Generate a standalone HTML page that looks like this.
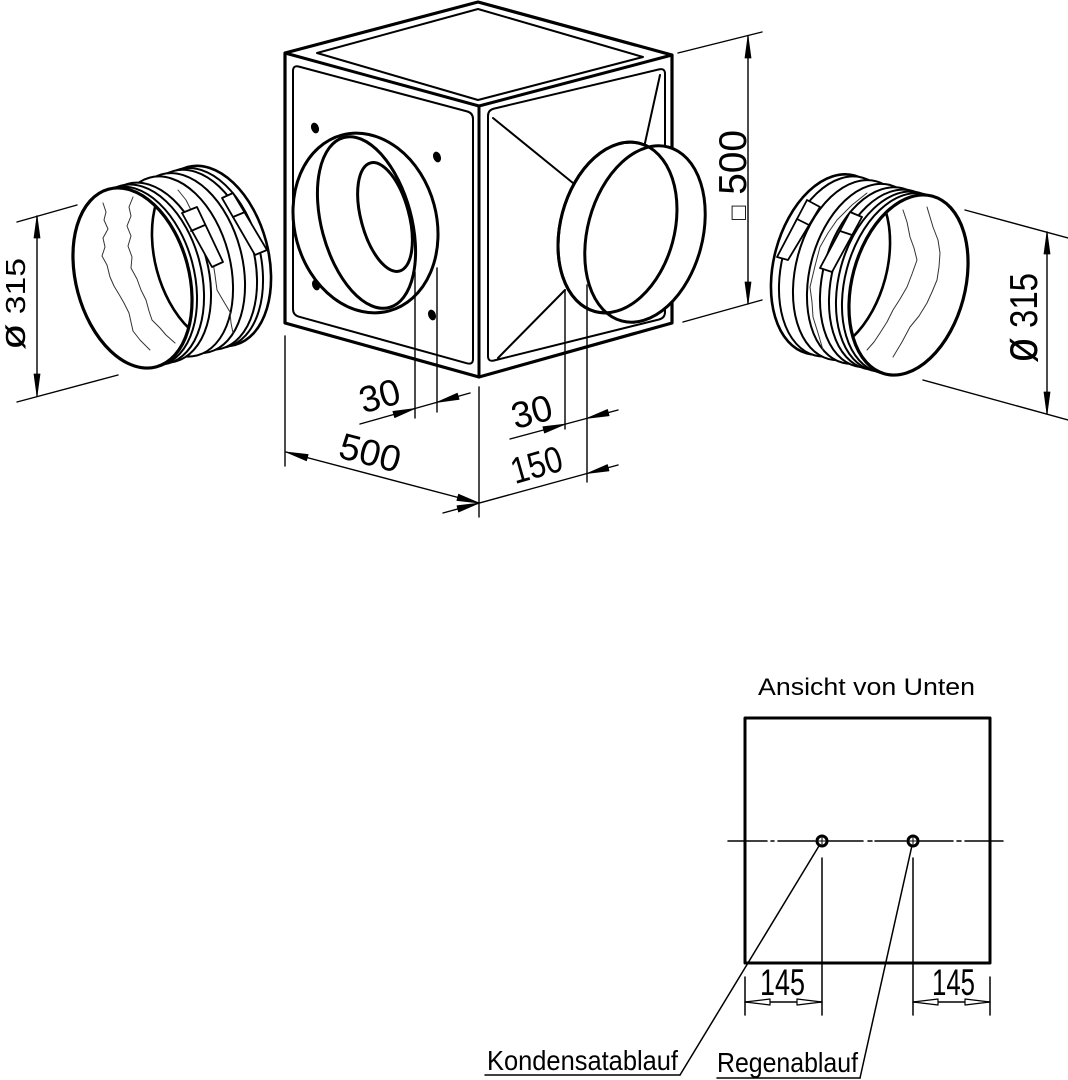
<!DOCTYPE html>
<html><head><meta charset="utf-8"><style>
html,body{margin:0;padding:0;background:#fff;}
svg{display:block;}
text{font-family:"Liberation Sans","DejaVu Sans",sans-serif;fill:#000;stroke:none;}
</style></head><body>
<svg width="1068" height="1080" viewBox="0 0 1068 1080" xmlns="http://www.w3.org/2000/svg">
<defs>
 <clipPath id="cF"><ellipse cx="132.5" cy="278" rx="55" ry="90.5" transform="rotate(-15 132.5 278)"/></clipPath>
 <clipPath id="cR"><ellipse cx="908.5" cy="285" rx="55" ry="90.5" transform="rotate(15 908.5 285)"/></clipPath>
</defs>
<rect x="0" y="0" width="1068" height="1080" fill="#fff"/>
<g fill="none" stroke="#000" stroke-linejoin="round" stroke-linecap="round">
 <!-- BOX -->
 <polygon points="285,53 478,2 672,55 672,323 479,377 285,323" stroke-width="3.2" fill="#fff"/>
 <polyline points="285,53 479,106 672,55" stroke-width="3"/>
 <line x1="479" y1="106" x2="479" y2="377" stroke-width="3"/>
 <polygon points="317,53 478,9 643,57 478,100" stroke-width="2"/>
 <path d="M293,71 Q293,65 299,66.6 L467,111.4 Q473,113 473,119 L473,359 Q473,365 467,363.3 L299,316.7 Q293,315 293,309 Z" stroke-width="2"/>
 <path d="M488,116 Q488,110 494,108.6 L659,69.4 Q665,68 665,74 L665,312 Q665,318 659,319.5 L494,360.5 Q488,362 488,356 Z" stroke-width="2"/>
 <line x1="493" y1="118" x2="573" y2="183" stroke-width="2"/>
 <line x1="498" y1="358" x2="565" y2="290" stroke-width="2"/>
 <line x1="660" y1="75" x2="645" y2="143" stroke-width="2"/>

 <!-- dots -->
 <g fill="#000" stroke="none">
  <ellipse cx="315" cy="128" rx="3.8" ry="5.5" transform="rotate(-20 315 128)"/>
  <ellipse cx="437" cy="157" rx="3.8" ry="5.5" transform="rotate(-20 437 157)"/>
  <ellipse cx="316" cy="285" rx="3.8" ry="5.5" transform="rotate(-20 316 285)"/>
  <ellipse cx="432" cy="315" rx="3.8" ry="5.5" transform="rotate(-20 432 315)"/>
 </g>

 <!-- left flange -->
 <ellipse cx="365.5" cy="223" rx="71" ry="91" transform="rotate(-15 365.5 223)" fill="#fff" stroke-width="3"/>
 <ellipse cx="366.5" cy="222.5" rx="45" ry="88" transform="rotate(-15 366.5 222.5)" stroke-width="3"/>
 <ellipse cx="385" cy="217" rx="24" ry="56" transform="rotate(-15 385 217)" stroke-width="3"/>

 <!-- right flange -->
 <ellipse cx="617.5" cy="227.5" rx="57" ry="87" transform="rotate(15 617.5 227.5)" fill="#fff" stroke-width="3"/>
 <ellipse cx="645" cy="234" rx="57.5" ry="90" transform="rotate(15 645 234)" fill="#fff" stroke-width="3"/>
 <ellipse cx="617.5" cy="227.5" rx="57" ry="87" transform="rotate(15 617.5 227.5)" stroke-width="3"/>

 <!-- LEFT COUPLING -->
 <g fill="#fff" stroke-width="2">
  <ellipse cx="211.5" cy="255.9" rx="56.5" ry="92" transform="rotate(-15 211.5 255.9)" stroke-width="2.6"/>
  <ellipse cx="203.5" cy="258.1" rx="56.5" ry="92" transform="rotate(-15 203.5 258.1)"/>
  <ellipse cx="197.5" cy="259.8" rx="56.5" ry="92" transform="rotate(-15 197.5 259.8)"/>
  <ellipse cx="185.5" cy="263.2" rx="56.5" ry="92" transform="rotate(-15 185.5 263.2)"/>
  <ellipse cx="173.5" cy="266.5" rx="56.5" ry="92" transform="rotate(-15 173.5 266.5)"/>
  <ellipse cx="151.5" cy="272.7" rx="56.5" ry="92" transform="rotate(-15 151.5 272.7)"/>
  <ellipse cx="144.5" cy="274.6" rx="56.5" ry="92" transform="rotate(-15 144.5 274.6)"/>
  <ellipse cx="137.5" cy="276.6" rx="56.5" ry="92" transform="rotate(-15 137.5 276.6)"/>
 </g>
 <polyline points="178,190 186,200 192,212 200,227 203,238 210,250 213,262 215,275 217,290 224,302 230,312 231,323 233,333" stroke-width="1" stroke="#333"/>
 <g fill="#fff" stroke-width="1.8">
  <polygon points="182,213 197,207 223,262 212,267"/>
  <line x1="191" y1="231" x2="205" y2="225"/>
  <polygon points="222,198 233,193 267,250 255,255"/>
  <line x1="233" y1="217" x2="245" y2="212"/>
 </g>
 <ellipse cx="132.5" cy="278" rx="56.5" ry="92" transform="rotate(-15 132.5 278)" fill="#fff" stroke-width="3.2"/>
 <g clip-path="url(#cF)">
  <ellipse cx="211.5" cy="255.9" rx="56.5" ry="92" transform="rotate(-15 211.5 255.9)" stroke-width="2.6"/>
  <polyline points="103,203 106,212 104,220 108,229 103,238 105,247 102,256 107,265 110,277 114,286 120,296 124,303 129,313 131,322 133,331 140,340 150,350" stroke-width="1" stroke="#333"/>
  <polyline points="133,197 129,207 131,216 127,226 131,236 128,246 132,257 131,268 137,279 141,290 146,300 149,311 152,320 160,328 166,335 175,343" stroke-width="1" stroke="#333"/>
 </g>

 <!-- RIGHT COUPLING -->
 <g fill="#fff" stroke-width="2">
  <ellipse cx="830.5" cy="264.4" rx="56.5" ry="92" transform="rotate(15 830.5 264.4)" stroke-width="2.6"/>
  <ellipse cx="838.5" cy="266.5" rx="56.5" ry="92" transform="rotate(15 838.5 266.5)"/>
  <ellipse cx="852.5" cy="270.2" rx="56.5" ry="92" transform="rotate(15 852.5 270.2)"/>
  <ellipse cx="866.5" cy="273.9" rx="56.5" ry="92" transform="rotate(15 866.5 273.9)"/>
  <ellipse cx="879.5" cy="277.3" rx="56.5" ry="92" transform="rotate(15 879.5 277.3)"/>
  <ellipse cx="888.5" cy="279.7" rx="56.5" ry="92" transform="rotate(15 888.5 279.7)"/>
  <ellipse cx="895.5" cy="281.6" rx="56.5" ry="92" transform="rotate(15 895.5 281.6)"/>
  <ellipse cx="901.5" cy="283.2" rx="56.5" ry="92" transform="rotate(15 901.5 283.2)"/>
 </g>
 <polyline points="867,193 852,205 837,220 828,233 820,247 815,266 810,287 812,302 813,317 818,333 823,350" stroke-width="1" stroke="#333"/>
 <g fill="#fff" stroke-width="1.8">
  <polygon points="807,200 820,207 788,260 777,257"/>
  <line x1="797" y1="219" x2="809" y2="225"/>
  <polygon points="850,212 862,217 832,272 820,268"/>
  <line x1="840" y1="231" x2="852" y2="235"/>
 </g>
 <ellipse cx="908.5" cy="285" rx="56.5" ry="92" transform="rotate(15 908.5 285)" fill="#fff" stroke-width="3.2"/>
 <g clip-path="url(#cR)">
  <ellipse cx="830.5" cy="264.4" rx="56.5" ry="92" transform="rotate(15 830.5 264.4)" stroke-width="2.6"/>
  <polyline points="903,210 907,222 910,237 914,248 917,260 912,274 907,287 900,299 893,310 887,322 880,333 874,342 867,350" stroke-width="1" stroke="#333"/>
  <polyline points="927,207 930,217 933,227 938,240 940,253 939,267 937,280 932,292 927,303 919,316 910,327 902,342 893,357" stroke-width="1" stroke="#333"/>
 </g>

 <!-- DIMENSIONS -->
 <g stroke-width="1.4">
  <line x1="17" y1="222" x2="77" y2="205"/>
  <line x1="17" y1="402" x2="118" y2="375"/>
  <line x1="37" y1="216" x2="37" y2="396"/>
  <line x1="965" y1="210" x2="1068" y2="238"/>
  <line x1="923" y1="380" x2="1068" y2="420"/>
  <line x1="1047" y1="232" x2="1047" y2="414"/>
  <line x1="678" y1="53" x2="762" y2="32"/>
  <line x1="683" y1="322" x2="762" y2="300"/>
  <line x1="748" y1="36" x2="748" y2="304"/>
  <line x1="285" y1="336" x2="285" y2="466"/>
  <line x1="479" y1="387" x2="479" y2="517"/>
  <line x1="415" y1="272" x2="415" y2="418"/>
  <line x1="437" y1="268" x2="437" y2="412"/>
  <line x1="565" y1="290" x2="565" y2="429"/>
  <line x1="587" y1="285" x2="587" y2="482"/>
  <line x1="286" y1="452" x2="479" y2="503"/>
  <line x1="443" y1="513" x2="618" y2="465"/>
  <line x1="360" y1="424" x2="470" y2="393"/>
  <line x1="510" y1="439" x2="618" y2="410"/>
 </g>
 <g fill="#000" stroke="#000" stroke-width="0.8">
  <polygon points="37,216 34,238 40,238"/>
  <polygon points="37,396 34,374 40,374"/>
  <polygon points="1047,232 1044,254 1050,254"/>
  <polygon points="1047,414 1044,392 1050,392"/>
  <polygon points="748,36 745,58 751,58"/>
  <polygon points="748,304 745,282 751,282"/>
  <polygon points="286,452 308.1,454.5 306.5,460.7"/>
  <polygon points="479,503 458.5,494.3 456.9,500.5"/>
  <polygon points="479,503.1 458.6,512 457,505.8"/>
  <polygon points="587,473.5 609,470.8 607.4,464.6"/>
  <polygon points="415,408.5 394.7,417.6 392.9,411.4"/>
  <polygon points="437,402.3 459.1,399.4 457.3,393.2"/>
  <polygon points="565,424.2 544.5,433 542.9,426.8"/>
  <polygon points="587,418.3 609.1,415.7 607.5,409.5"/>
 </g>

 <!-- BOTTOM VIEW -->
 <rect x="745" y="718" width="245" height="245" stroke-width="3"/>
 <g stroke-width="1.5">
  <line x1="728" y1="841" x2="767" y2="841"/>
  <line x1="771" y1="841" x2="774" y2="841"/>
  <line x1="778" y1="841" x2="815" y2="841"/>
  <line x1="828" y1="841" x2="863" y2="841"/>
  <line x1="868" y1="841" x2="872" y2="841"/>
  <line x1="875" y1="841" x2="906" y2="841"/>
  <line x1="919" y1="841" x2="953" y2="841"/>
  <line x1="957" y1="841" x2="961" y2="841"/>
  <line x1="965" y1="841" x2="1003" y2="841"/>
  <line x1="822" y1="858" x2="822" y2="1015"/>
  <line x1="913" y1="858" x2="913" y2="1015"/>
  <line x1="745" y1="977" x2="745" y2="1015"/>
  <line x1="990" y1="977" x2="990" y2="1015"/>
  <line x1="745" y1="1002" x2="822" y2="1002"/>
  <line x1="913" y1="1002" x2="990" y2="1002"/>
  <line x1="822" y1="841" x2="680" y2="1075"/>
  <line x1="913" y1="841" x2="860" y2="1078"/>
  <line x1="485" y1="1075" x2="680" y2="1075"/>
  <line x1="717" y1="1078" x2="860" y2="1078"/>
 </g>
 <circle cx="822" cy="841" r="5" fill="#fff" stroke-width="3"/>
 <circle cx="913" cy="841" r="5" fill="#fff" stroke-width="3"/>
 <g stroke-width="1">
  <line x1="819" y1="841" x2="825" y2="841"/><line x1="822" y1="838" x2="822" y2="844"/>
  <line x1="910" y1="841" x2="916" y2="841"/><line x1="913" y1="838" x2="913" y2="844"/>
 </g>
 <g fill="#fff" stroke-width="1.2">
  <polygon points="745,1002 770,999 770,1005"/>
  <polygon points="822,1002 797,999 797,1005"/>
  <polygon points="913,1002 938,999 938,1005"/>
  <polygon points="990,1002 965,999 965,1005"/>
 </g>
</g>

<!-- TEXT -->
<text transform="translate(25,350) rotate(-90)" x="0" y="0" font-size="28" textLength="92" lengthAdjust="spacingAndGlyphs"><tspan font-size="36">ø</tspan> 315</text>
<text transform="translate(1037,363) rotate(-90)" x="0" y="0" font-size="39" textLength="90" lengthAdjust="spacingAndGlyphs"><tspan font-size="50">ø</tspan> 315</text>
<text transform="translate(746,220) rotate(-90)" x="0" y="0" font-size="39" textLength="90" lengthAdjust="spacingAndGlyphs"><tspan font-size="24">□</tspan> 500</text>
<text transform="translate(383,408) rotate(-15.5)" x="-20.5" y="0" font-size="37" textLength="41" lengthAdjust="spacingAndGlyphs">30</text>
<text transform="translate(535,424) rotate(-15)" x="-20.5" y="0" font-size="37" textLength="41" lengthAdjust="spacingAndGlyphs">30</text>
<text transform="translate(540,477) rotate(-16)" x="-26" y="0" font-size="37" textLength="52" lengthAdjust="spacingAndGlyphs">150</text>
<text transform="translate(367,465) rotate(14.5)" x="-31" y="0" font-size="37" textLength="62" lengthAdjust="spacingAndGlyphs">500</text>
<text x="760" y="995" font-size="37" textLength="45" lengthAdjust="spacingAndGlyphs">145</text>
<text x="932" y="995" font-size="37" textLength="43" lengthAdjust="spacingAndGlyphs">145</text>
<text x="758" y="695" font-size="24" textLength="217" lengthAdjust="spacingAndGlyphs">Ansicht von Unten</text>
<text x="487" y="1070" font-size="28" textLength="191" lengthAdjust="spacingAndGlyphs">Kondensatablauf</text>
<text x="717" y="1072" font-size="28" textLength="141" lengthAdjust="spacingAndGlyphs">Regenablauf</text>
</svg>
</body></html>
